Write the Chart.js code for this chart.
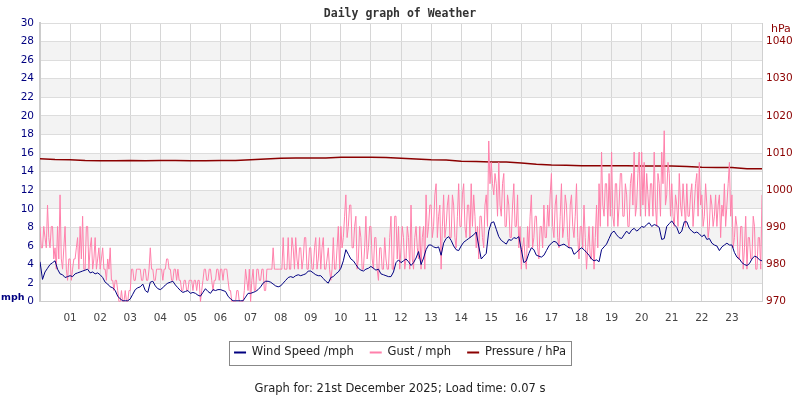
<!DOCTYPE html>
<html>
<head>
<meta charset="utf-8">
<script src="https://cdn.jsdelivr.net/npm/chart.js@4.4.1/dist/chart.umd.min.js"></script>
<style>
  html, body { margin: 0; padding: 0; background: #fff; }
  #wrap { width: 800px; height: 400px; }
</style>
</head>
<body>
<div id="wrap"><canvas id="c" width="800" height="400"></canvas></div>
<script>
// ---- data ----
const titleText = 'Daily graph of Weather';
const footerText = 'Graph for: 21st December 2025; Load time: 0.07 s';
const seriesNames = ['Wind Speed /mph', 'Gust / mph', 'Pressure / hPa'];
const hourLabels = ['01','02','03','04','05','06','07','08','09','10','11','12','13','14','15','16','17','18','19','20','21','22','23'];
const mphTicks = [0,2,4,6,8,10,12,14,16,18,20,22,24,26,28,30];
const hpaTicks = [970,980,990,1000,1010,1020,1030,1040];

// wind speed, every 5 minutes from 00:00 to 24:00 (mph)
const windSpeed = [
  4.3, 2.4, 3.2, 3.6, 4.0, 4.2, 4.4, 3.5, 3.0, 2.9, 2.6, 2.7,
  2.8, 2.7, 3.0, 3.1, 3.2, 3.3, 3.4, 3.5, 3.1, 3.2, 3.0, 3.1,
  2.9, 2.6, 2.1, 1.9, 1.6, 1.5, 1.2, 0.6, 0.3, 0.1, 0.1, 0.1,
  0.3, 0.8, 1.3, 1.5, 1.6, 1.9, 1.2, 1.0, 2.1, 2.2, 1.7, 1.4,
  1.3, 1.5, 1.8, 2.0, 2.1, 2.2, 1.8, 1.5, 1.2, 1.0, 1.1, 1.2,
  0.9, 1.0, 0.9, 0.7, 0.6, 1.0, 1.4, 1.1, 0.9, 1.3, 1.2, 1.3,
  1.3, 1.2, 1.1, 0.6, 0.3, 0.1, 0.1, 0.1, 0.1, 0.1, 0.5, 0.9,
  0.9, 1.0, 1.1, 1.3, 1.6, 2.0, 2.2, 2.2, 2.1, 1.9, 1.7, 1.6,
  1.7, 2.0, 2.3, 2.6, 2.7, 2.6, 2.8, 2.9, 2.8, 2.9, 3.0, 3.3,
  3.3, 3.1, 2.9, 2.8, 2.8, 2.5, 2.2, 2.0, 2.6, 2.7, 3.0, 3.2,
  3.6, 4.4, 5.6, 5.1, 4.6, 4.4, 4.0, 3.6, 3.4, 3.3, 3.5, 3.6,
  3.8, 3.6, 3.4, 3.5, 3.0, 2.9, 2.8, 2.7, 2.7, 3.2, 4.2, 4.5,
  4.2, 4.4, 4.6, 4.3, 3.9, 4.2, 4.7, 5.4, 4.0, 4.7, 5.6, 6.1,
  6.1, 5.9, 5.8, 5.9, 5.0, 6.3, 6.8, 7.0, 6.6, 6.0, 5.6, 5.5,
  6.0, 6.4, 6.6, 6.8, 7.0, 7.2, 7.5, 6.0, 4.6, 4.9, 5.2, 7.6,
  8.5, 8.6, 7.8, 7.0, 6.6, 6.4, 6.2, 6.7, 6.6, 6.9, 6.8, 7.0,
  5.6, 4.2, 4.4, 5.2, 5.8, 5.6, 5.0, 4.9, 4.8, 5.0, 5.5, 6.0,
  6.3, 6.5, 6.4, 6.0, 6.1, 6.2, 6.0, 5.8, 5.8, 5.1, 5.3, 5.6,
  5.8, 5.6, 5.3, 5.0, 4.6, 4.4, 4.5, 4.3, 5.6, 5.9, 6.2, 6.8,
  7.4, 7.6, 7.2, 6.9, 6.8, 7.2, 7.6, 7.3, 7.7, 7.9, 7.6, 7.8,
  8.1, 8.0, 8.3, 8.5, 8.1, 8.3, 8.2, 8.0, 6.7, 6.8, 8.1, 8.4,
  8.7, 8.3, 8.0, 7.3, 7.6, 8.6, 8.6, 7.9, 7.6, 7.4, 7.5, 7.3,
  7.0, 7.2, 6.7, 6.8, 6.3, 6.1, 6.0, 5.5, 5.9, 6.1, 6.3, 6.1,
  6.1, 5.3, 4.8, 4.6, 4.2, 4.0, 3.9, 4.1, 4.6, 4.9, 4.8, 4.5,
  4.4
];

// gust, every 2.5 minutes from 00:00 to 24:00 (mph)
const gust = [
  8.1, 5.8, 5.8, 8.1, 6.9, 5.8, 10.4, 6.9, 5.8, 8.1, 8.1, 4.6, 5.8, 3.5, 8.1, 4.6, 11.5, 4.6, 3.5, 5.8, 8.1, 3.5, 2.3, 4.6,
  4.6, 2.3, 3.5, 4.6, 4.6, 5.8, 6.9, 3.5, 8.1, 4.6, 9.2, 3.5, 3.5, 8.1, 8.1, 3.5, 5.8, 6.9, 3.5, 4.6, 6.9, 3.5, 4.6, 5.8,
  3.5, 4.6, 5.8, 3.5, 3.5, 2.3, 4.6, 3.5, 5.8, 2.3, 2.3, 1.2, 2.3, 2.3, 1.2, 0, 0, 1.2, 0, 0, 1.2, 0, 0, 1.2,
  1.2, 3.5, 3.5, 2.3, 2.3, 3.5, 3.5, 3.5, 3.5, 2.3, 2.3, 3.5, 3.5, 2.3, 2.3, 3.5, 5.8, 3.5, 3.5, 2.3, 2.3, 3.5, 3.5, 3.5,
  3.5, 3.5, 2.3, 3.5, 3.5, 4.6, 4.6, 3.5, 3.5, 2.3, 2.3, 3.5, 3.5, 2.3, 3.5, 2.3, 2.3, 1.2, 1.2, 2.3, 2.3, 1.2, 1.2, 2.3,
  2.3, 2.3, 1.2, 2.3, 2.3, 1.2, 2.3, 2.3, 0, 1.2, 2.3, 3.5, 3.5, 2.3, 2.3, 3.5, 3.5, 2.3, 1.2, 2.3, 2.3, 3.5, 3.5, 2.3,
  3.5, 3.5, 2.3, 3.5, 3.5, 3.5, 2.3, 1.2, 1.2, 0, 0, 0, 0, 1.2, 1.2, 0, 0, 0, 0, 1.2, 3.5, 2.3, 1.2, 3.5,
  0, 2.3, 3.5, 1.2, 1.2, 3.5, 3.5, 2.3, 2.3, 3.5, 3.5, 1.2, 1.2, 3.5, 3.5, 3.5, 3.5, 3.5, 5.8, 3.5, 3.5, 3.5, 3.5, 3.5,
  3.5, 3.5, 6.9, 3.5, 3.5, 3.5, 6.9, 3.5, 3.5, 6.9, 5.8, 3.5, 6.9, 4.6, 3.5, 5.8, 5.8, 3.5, 4.6, 6.9, 6.9, 3.5, 3.5, 5.8,
  5.8, 3.5, 3.5, 5.8, 6.9, 3.5, 4.6, 6.9, 3.5, 5.8, 6.9, 3.5, 3.5, 4.6, 5.8, 3.5, 2.3, 3.5, 6.9, 3.5, 3.5, 5.8, 8.1, 3.5,
  8.1, 5.8, 6.9, 9.2, 11.5, 6.9, 8.1, 10.4, 10.4, 5.8, 5.8, 8.1, 9.2, 3.5, 4.6, 8.1, 6.9, 3.5, 3.5, 5.8, 9.2, 4.6, 5.8, 8.1,
  8.1, 4.6, 3.5, 6.9, 6.9, 3.5, 2.3, 5.8, 5.8, 3.5, 3.5, 6.9, 4.6, 3.5, 3.5, 6.9, 9.2, 3.5, 3.5, 9.2, 9.2, 4.6, 8.1, 3.5,
  5.8, 8.1, 6.9, 3.5, 4.6, 8.1, 6.9, 3.5, 10.4, 4.6, 3.5, 6.9, 8.1, 5.8, 4.6, 8.1, 3.5, 6.9, 8.1, 3.5, 11.5, 6.9, 8.1, 10.4,
  10.4, 6.9, 8.1, 11.5, 12.7, 6.9, 9.2, 10.4, 3.5, 8.1, 11.5, 6.9, 8.1, 10.4, 11.5, 6.9, 6.9, 11.5, 10.4, 6.9, 5.8, 9.2, 12.7, 8.1,
  8.1, 11.5, 12.7, 8.1, 6.9, 10.4, 10.4, 6.9, 12.7, 8.1, 11.5, 9.2, 5.8, 8.1, 4.6, 9.2, 9.2, 6.9, 5.8, 10.4, 11.5, 8.1, 17.3, 12.7,
  15.0, 12.7, 11.5, 13.8, 12.7, 9.2, 15.0, 10.4, 9.2, 12.7, 13.8, 8.1, 8.1, 11.5, 10.4, 6.9, 6.9, 10.4, 12.7, 8.1, 8.1, 11.5, 5.8, 8.1,
  3.5, 5.8, 6.9, 4.6, 3.5, 8.1, 5.8, 9.2, 11.5, 5.8, 6.9, 9.2, 9.2, 5.8, 4.6, 8.1, 8.1, 5.8, 10.4, 6.9, 6.9, 10.4, 8.1, 11.5,
  13.8, 8.1, 6.9, 10.4, 11.5, 6.9, 5.8, 9.2, 12.7, 6.9, 8.1, 11.5, 10.4, 6.9, 5.8, 10.4, 11.5, 8.1, 6.9, 9.2, 12.7, 6.9, 4.6, 8.1,
  8.1, 5.8, 10.4, 6.9, 3.5, 5.8, 8.1, 4.6, 4.6, 8.1, 3.5, 6.9, 10.4, 5.8, 12.7, 8.1, 16.1, 10.4, 9.2, 12.7, 12.7, 8.1, 13.8, 9.2,
  16.1, 9.2, 8.1, 12.7, 12.7, 8.1, 10.4, 13.8, 13.8, 9.2, 9.2, 12.7, 11.5, 8.1, 8.1, 12.7, 13.8, 10.4, 16.1, 9.2, 10.4, 13.8, 16.1, 9.2,
  16.1, 10.4, 15.0, 9.2, 13.8, 11.5, 9.2, 12.7, 12.7, 9.2, 16.1, 10.4, 8.1, 13.8, 12.7, 9.2, 16.1, 12.7, 18.4, 10.4, 11.5, 15.0, 13.8, 9.2,
  12.7, 9.2, 8.1, 11.5, 10.4, 8.1, 13.8, 10.4, 9.2, 12.7, 10.4, 8.1, 12.7, 9.2, 9.2, 11.5, 12.7, 8.1, 10.4, 12.7, 13.8, 9.2, 15.0, 10.4,
  11.5, 8.1, 9.2, 12.7, 10.4, 6.9, 8.1, 11.5, 10.4, 8.1, 9.2, 11.5, 8.1, 10.4, 11.5, 6.9, 10.4, 9.2, 12.7, 8.1, 10.4, 12.7, 15.0, 9.2,
  11.5, 5.8, 6.9, 9.2, 8.1, 4.6, 4.6, 8.1, 8.1, 3.5, 5.8, 9.2, 3.5, 6.9, 6.9, 4.6, 4.6, 9.2, 8.1, 3.5, 3.5, 6.9, 6.9, 3.5,
  11.5
];

// pressure, every 30 minutes from 00:00 to 24:00 (hPa)
const pressure = [
  1008.5, 1008.3, 1008.2, 1008.0, 1007.9, 1007.9, 1008.0, 1007.9,
  1008.0, 1008.0, 1007.9, 1007.9, 1008.0, 1008.0, 1008.2, 1008.4,
  1008.6, 1008.7, 1008.7, 1008.7, 1008.9, 1008.9, 1008.9, 1008.8,
  1008.6, 1008.4, 1008.2, 1008.1, 1007.8, 1007.7, 1007.6, 1007.6,
  1007.3, 1007.0, 1006.8, 1006.7, 1006.6, 1006.6, 1006.6, 1006.6,
  1006.5, 1006.5, 1006.5, 1006.4, 1006.2, 1006.1, 1006.1, 1005.8,
  1005.8
];

// ---- helpers ----
const toPoints = (arr) => arr.map((v, i) => ({ x: i * 24 / (arr.length - 1), y: v }));

const COL_WIND = '#000080';
const COL_GUST = '#ff80ab';
const COL_PRES = '#8b0000';

const bandsPlugin = {
  id: 'bands',
  beforeDraw(chart) {
    const { ctx, chartArea: a, scales } = chart;
    const ys = scales.y;
    ctx.save();
    ctx.fillStyle = '#ffffff';
    ctx.fillRect(0, 0, chart.width, chart.height);
    ctx.fillStyle = '#f3f3f3';
    for (let i = 1; i + 1 < mphTicks.length; i += 2) {
      const y1 = ys.getPixelForValue(mphTicks[i + 1]);
      const y0 = ys.getPixelForValue(mphTicks[i]);
      ctx.fillRect(a.left, y1, a.right - a.left, y0 - y1);
    }
    ctx.restore();
  }
};

const extrasPlugin = {
  id: 'extras',
  afterDraw(chart) {
    const { ctx, chartArea: a } = chart;
    ctx.save();
    ctx.textBaseline = 'middle';
    ctx.textAlign = 'left';
    ctx.fillStyle = COL_WIND;
    ctx.font = 'bold 9.5px "DejaVu Sans"';
    ctx.fillText('mph', 1, a.bottom - 4);
    ctx.fillStyle = COL_PRES;
    ctx.font = '11px "DejaVu Sans"';
    ctx.fillText('hPa', a.right + 9, a.top + 6);
    const lg = chart.legend;
    if (lg && lg.legendHitBoxes && lg.legendHitBoxes.length) {
      const hb = lg.legendHitBoxes;
      const left = hb[0].left - 5;
      const last = hb[hb.length - 1];
      const right = last.left + last.width + 5;
      const top = hb[0].top - 6;
      const bottom = hb[0].top + hb[0].height + 6;
      ctx.strokeStyle = '#888888';
      ctx.lineWidth = 1;
      ctx.strokeRect(Math.round(left) + 0.5, Math.round(top) + 0.5, Math.round(right - left), Math.round(bottom - top));
    }
    ctx.restore();
  }
};

new Chart(document.getElementById('c'), {
  type: 'line',
  data: {
    datasets: [
      { label: seriesNames[0], data: toPoints(windSpeed), borderColor: COL_WIND, backgroundColor: COL_WIND, borderWidth: 1, yAxisID: 'y' },
      { label: seriesNames[1], data: toPoints(gust), borderColor: COL_GUST, backgroundColor: COL_GUST, borderWidth: 1, yAxisID: 'y' },
      { label: seriesNames[2], data: toPoints(pressure), borderColor: COL_PRES, backgroundColor: COL_PRES, borderWidth: 1.5, yAxisID: 'y2' }
    ]
  },
  options: {
    responsive: false,
    animation: false,
    devicePixelRatio: 1,
    elements: { point: { radius: 0, hoverRadius: 0 }, line: { tension: 0 } },
    layout: { padding: 0 },
    plugins: {
      tooltip: { enabled: false },
      title: {
        display: true, text: titleText, color: '#333333',
        font: { family: '"DejaVu Sans Mono"', weight: 'bold', size: 11.5 },
        padding: { top: 7, bottom: 2.2 }
      },
      subtitle: {
        display: true, text: footerText, position: 'bottom', color: '#222222',
        font: { family: '"DejaVu Sans"', size: 11.5, weight: 'normal' },
        padding: { top: 14, bottom: 4 }
      },
      legend: {
        position: 'bottom',
        labels: {
          color: '#222222',
          font: { family: '"DejaVu Sans"', size: 11.5 },
          usePointStyle: true, pointStyle: 'line', pointStyleWidth: 12,
          padding: 16,
          generateLabels(chart) {
            return chart.data.datasets.map((ds, i) => ({
              text: ds.label, fillStyle: ds.borderColor, strokeStyle: ds.borderColor,
              lineWidth: 2, pointStyle: 'line', hidden: false, datasetIndex: i, fontColor: '#222222'
            }));
          }
        }
      }
    },
    scales: {
      x: {
        type: 'linear', min: 0, max: 24,
        afterFit(s) { s.height = 29; },
        grid: { color: '#d6d6d6', lineWidth: 1, drawTicks: false },
        border: { color: '#cccccc', width: 1 },
        ticks: {
          stepSize: 1, autoSkip: false, maxRotation: 0, padding: 10,
          color: '#444444', font: { family: '"DejaVu Sans"', size: 10.5 },
          callback: (v) => (v >= 1 && v <= 23 && Number.isInteger(v)) ? hourLabels[v - 1] : ''
        }
      },
      y: {
        position: 'left', min: 0, max: 30,
        afterFit(s) { s.width = 40; },
        afterBuildTicks(s) { s.ticks = mphTicks.map(v => ({ value: v })); },
        grid: { color: '#dddddd', lineWidth: 1, drawTicks: false },
        border: { color: '#cccccc', width: 2 },
        ticks: { padding: 6, color: COL_WIND, font: { family: '"DejaVu Sans"', size: 10.5 }, callback: (v) => String(v) }
      },
      y2: {
        position: 'right', min: 970, max: 1045,
        afterFit(s) { s.width = 38; },
        afterBuildTicks(s) { s.ticks = hpaTicks.map(v => ({ value: v })); },
        grid: { drawOnChartArea: false, drawTicks: false },
        border: { color: '#d0d0d0', width: 1 },
        ticks: { padding: 4, color: COL_PRES, font: { family: '"DejaVu Sans"', size: 10.5 }, callback: (v) => String(v) }
      }
    }
  },
  plugins: [bandsPlugin, extrasPlugin]
});
</script>
</body>
</html>
